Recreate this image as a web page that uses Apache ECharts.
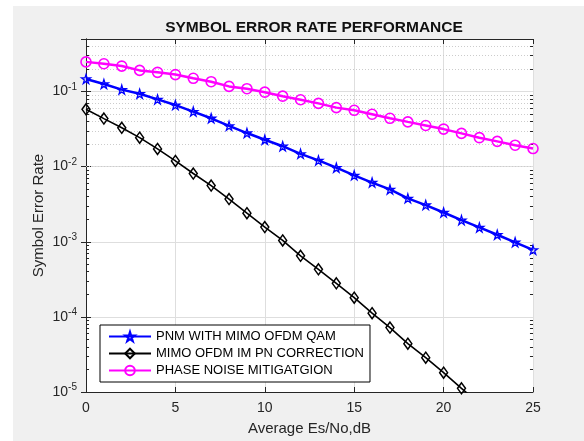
<!DOCTYPE html>
<html>
<head>
<meta charset="utf-8">
<title>SER</title>
<style>
body { margin: 0; background: #fff; }
#bg { position: absolute; left: 13px; top: 6px; width: 571px; height: 435px; background: #f0f0f0; }
#main { position: absolute; left: 0; top: 0; width: 584px; height: 441px; }
</style>
</head>
<body>
<div id="bg"></div>
<div id="main"></div>
<script src="https://cdn.jsdelivr.net/npm/echarts@6.0.0/dist/echarts.min.js"></script>
<script>
// Es/No in dB
var snrDb = [0, 1, 2, 3, 4, 5, 6, 7, 8, 9, 10, 11, 12, 13, 14, 15, 16, 17, 18, 19, 20, 21, 22, 23, 24, 25];

var pnmMimoOfdmQam = [0.147, 0.126, 0.106, 0.0932, 0.0785, 0.066, 0.054, 0.044, 0.0349, 0.028,
  0.0228, 0.0187, 0.0148, 0.0121, 0.00968, 0.00766, 0.00614, 0.00497, 0.00378, 0.00308,
  0.00245, 0.00194, 0.00155, 0.00124, 0.000984, 0.00078];

var mimoOfdmImPn = [0.058, 0.0436, 0.0329, 0.0243, 0.0172, 0.0119, 0.0081, 0.0056, 0.0037, 0.0024,
  0.00157, 0.00104, 0.00065, 0.00043, 0.00028, 0.00018, 0.000112, 7.2e-5, 4.4e-5, 2.86e-5,
  1.81e-5, 1.12e-5, 7e-6];

var phaseNoiseMitigation = [0.248, 0.234, 0.218, 0.191, 0.18, 0.168, 0.15, 0.135, 0.117, 0.109,
  0.098, 0.0867, 0.0777, 0.0695, 0.061, 0.0562, 0.0498, 0.044, 0.0394, 0.0353,
  0.0316, 0.0277, 0.0243, 0.0217, 0.0193, 0.0174];

var legendNames = ['PNM WITH MIMO OFDM QAM', 'MIMO OFDM IM PN CORRECTION', 'PHASE NOISE MITIGATGION'];

var yMin = 1e-5, yMax = 0.5;
var FONT = '"Liberation Sans", Arial, sans-serif';
var AX = '#262626';

function pairs(ys) {
  var out = [];
  for (var i = 0; i < ys.length; i++) out.push([snrDb[i], ys[i]]);
  return out;
}

// minor log grid lines (2..9 x decade)
var minorLines = [], minorTicks = [];
for (var d = -5; d <= -1; d++) {
  for (var m = 2; m <= 9; m++) {
    var v = m * Math.pow(10, d);
    if (v >= yMax) continue;
    minorLines.push({ yAxis: v });
    minorTicks.push([{ coord: [0, v] }, { coord: [0.17, v] }]);
    minorTicks.push([{ coord: [24.83, v] }, { coord: [25, v] }]);
  }
}

var star = 'path://M50,0 L61,35 L98,35 L68,57 L79,91 L50,70 L21,91 L32,57 L2,35 L39,35 Z';

function lineSeries(name, ys, color, symbol, size, lw, bw) {
  return {
    name: name,
    type: 'line',
    data: pairs(ys),
    z: 5,
    clip: true,
    symbol: symbol,
    symbolSize: size,
    showSymbol: true,
    lineStyle: { color: color, width: lw },
    itemStyle: { color: 'rgba(0,0,0,0)', borderColor: color, borderWidth: bw },
    emphasis: { disabled: true },
    animation: false
  };
}

var chart = echarts.init(document.getElementById('main'), null, { renderer: 'canvas' });

var option = {
  backgroundColor: 'transparent',
  animation: false,
  textStyle: { fontFamily: FONT },
  title: {
    text: 'SYMBOL ERROR RATE PERFORMANCE',
    left: 309, top: 15, textAlign: 'center',
    textStyle: { fontFamily: FONT, fontSize: 15.5, fontWeight: 'bold', color: '#111' }
  },
  grid: {
    left: 86, right: 51, top: 39, bottom: 45,
    show: true, backgroundColor: '#fff', borderWidth: 0
  },
  legend: {
    data: legendNames,
    orient: 'vertical',
    left: 100, top: 325,
    itemWidth: 42, itemHeight: 12, itemGap: 4,
    padding: [5, 6, 5, 8],
    backgroundColor: '#fff',
    borderColor: '#000', borderWidth: 1, borderRadius: 0,
    textStyle: { fontFamily: FONT, fontSize: 13, color: '#000' }
  },
  xAxis: [{
    type: 'value', min: 0, max: 25, interval: 5,
    name: 'Average Es/No,dB', nameLocation: 'middle', nameGap: 29,
    nameTextStyle: { fontFamily: FONT, fontSize: 15, color: AX },
    axisLine: { show: true, lineStyle: { color: AX, width: 1 } },
    axisTick: { show: true, inside: true, length: 5, lineStyle: { color: AX } },
    axisLabel: { fontFamily: FONT, fontSize: 14, color: AX, margin: 9 },
    splitLine: { show: true, lineStyle: { color: '#dedede', width: 1 } }
  }, {
    type: 'value', min: 0, max: 25, interval: 5, position: 'top',
    axisLine: { show: true, lineStyle: { color: AX, width: 1 } },
    axisTick: { show: true, inside: true, length: 5, lineStyle: { color: AX } },
    axisLabel: { show: false },
    splitLine: { show: false }
  }],
  yAxis: [{
    type: 'log', logBase: 10, min: yMin, max: yMax,
    name: 'Symbol Error Rate', nameLocation: 'middle', nameGap: 40,
    nameMoveOverlap: false,
    nameTextStyle: { fontFamily: FONT, fontSize: 15, color: AX },
    axisLine: { show: true, lineStyle: { color: AX, width: 1 } },
    axisTick: { show: true, inside: true, length: 5, lineStyle: { color: AX } },
    axisLabel: {
      margin: 9,
      showMaxLabel: false,
      formatter: function (val) {
        var e = Math.log10(val);
        if (Math.abs(e - Math.round(e)) > 1e-6) return '';
        return '{b|10}{s|' + Math.round(e) + '}';
      },
      rich: {
        b: { fontFamily: FONT, fontSize: 14, color: AX },
        s: { fontFamily: FONT, fontSize: 10, color: AX, verticalAlign: 'bottom', padding: [0, 0, 9, 0] }
      }
    },
    splitLine: { show: true, lineStyle: { color: '#dedede', width: 1 } }
  }, {
    type: 'log', logBase: 10, min: yMin, max: yMax, position: 'right',
    axisLine: { show: true, lineStyle: { color: AX, width: 1 } },
    axisTick: { show: true, inside: true, length: 5, lineStyle: { color: AX } },
    axisLabel: { show: false },
    splitLine: { show: false }
  }],
  series: [
    {
      name: 'minor-grid',
      type: 'line',
      data: [],
      z: 1,
      silent: true,
      markLine: {
        silent: true,
        symbol: ['none', 'none'],
        label: { show: false },
        animation: false,
        lineStyle: { color: '#cccccc', type: [1, 2], width: 1 },
        emphasis: { disabled: true },
        data: minorLines
      }
    },
    {
      name: 'minor-ticks',
      type: 'line',
      data: [],
      z: 6,
      silent: true,
      markLine: {
        silent: true,
        symbol: ['none', 'none'],
        label: { show: false },
        animation: false,
        lineStyle: { color: AX, type: 'solid', width: 1 },
        emphasis: { disabled: true },
        data: minorTicks
      }
    },
    lineSeries(legendNames[0], pnmMimoOfdmQam, '#0000ff', star, 9, 2.5, 1.3),
    lineSeries(legendNames[1], mimoOfdmImPn, '#000000', 'diamond', [8, 11], 1.6, 1.5),
    lineSeries(legendNames[2], phaseNoiseMitigation, '#ff00ff', 'circle', 10, 2.5, 1.6)
  ]
};

chart.setOption(option);
</script>
</body>
</html>
